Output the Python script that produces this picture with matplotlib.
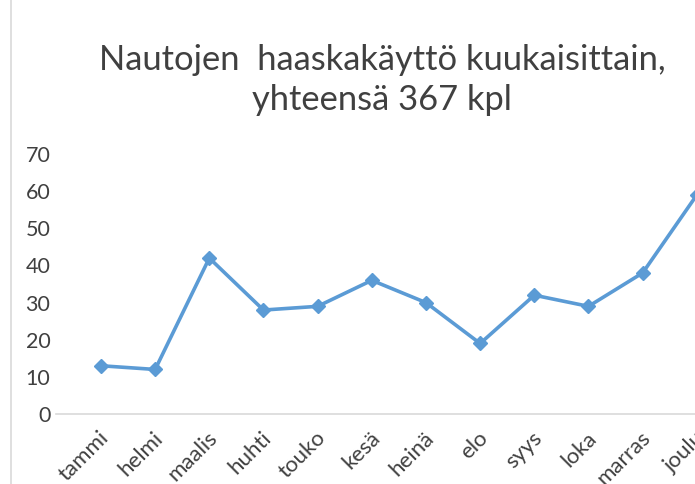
import matplotlib.pyplot as plt
from matplotlib.lines import Line2D
from matplotlib.transforms import ScaledTranslation

months = ['tammi', 'helmi', 'maalis', 'huhti', 'touko', 'kesä',
          'heinä', 'elo', 'syys', 'loka', 'marras', 'joulu']
counts = [13, 12, 42, 28, 29, 36, 30, 19, 32, 29, 38, 59]

plt.rcParams['font.family'] = ['Lato', 'DejaVu Sans']

fig = plt.figure(figsize=(6.95, 4.84), dpi=100)
ax = fig.add_axes([0.0806, 0.1446, 0.961, 0.537])

x = list(range(len(months)))
ax.plot(x, counts, color='#5B9BD5', linewidth=2.6, marker='D', markersize=7.5,
        markeredgecolor='#5B9BD5', markerfacecolor='#5B9BD5')

ax.set_xlim(-0.83, 11.5)
ax.set_ylim(0, 70)
ax.set_yticks(range(0, 71, 10))
ax.set_xticks(x)
ax.set_xticklabels(months, rotation=45, ha='right', va='center',
                   rotation_mode='anchor')
ax.tick_params(axis='x', length=0, pad=15, labelsize=16, labelcolor='#404040')
ax.tick_params(axis='y', length=0, pad=4, labelsize=15.5, labelcolor='#404040')

# nudge the rotated labels a little to the right, like the original
shift = ScaledTranslation(5 / 100, 0, fig.dpi_scale_trans)
for lab in ax.get_xticklabels():
    lab.set_transform(lab.get_transform() + shift)

for s in ['top', 'right', 'left']:
    ax.spines[s].set_visible(False)
ax.spines['bottom'].set_color('#D9D9D9')
ax.spines['bottom'].set_linewidth(1.2)

fig.text(0.55, 0.835, 'Nautojen  haaskakäyttö kuukaisittain,\nyhteensä 367 kpl',
         ha='center', va='center', fontsize=24.8, color='#404040',
         linespacing=1.3)

fig.add_artist(Line2D([0.016, 0.016], [0, 1], color='#D9D9D9', linewidth=1.2))

fig.savefig('out.png', dpi=100)
